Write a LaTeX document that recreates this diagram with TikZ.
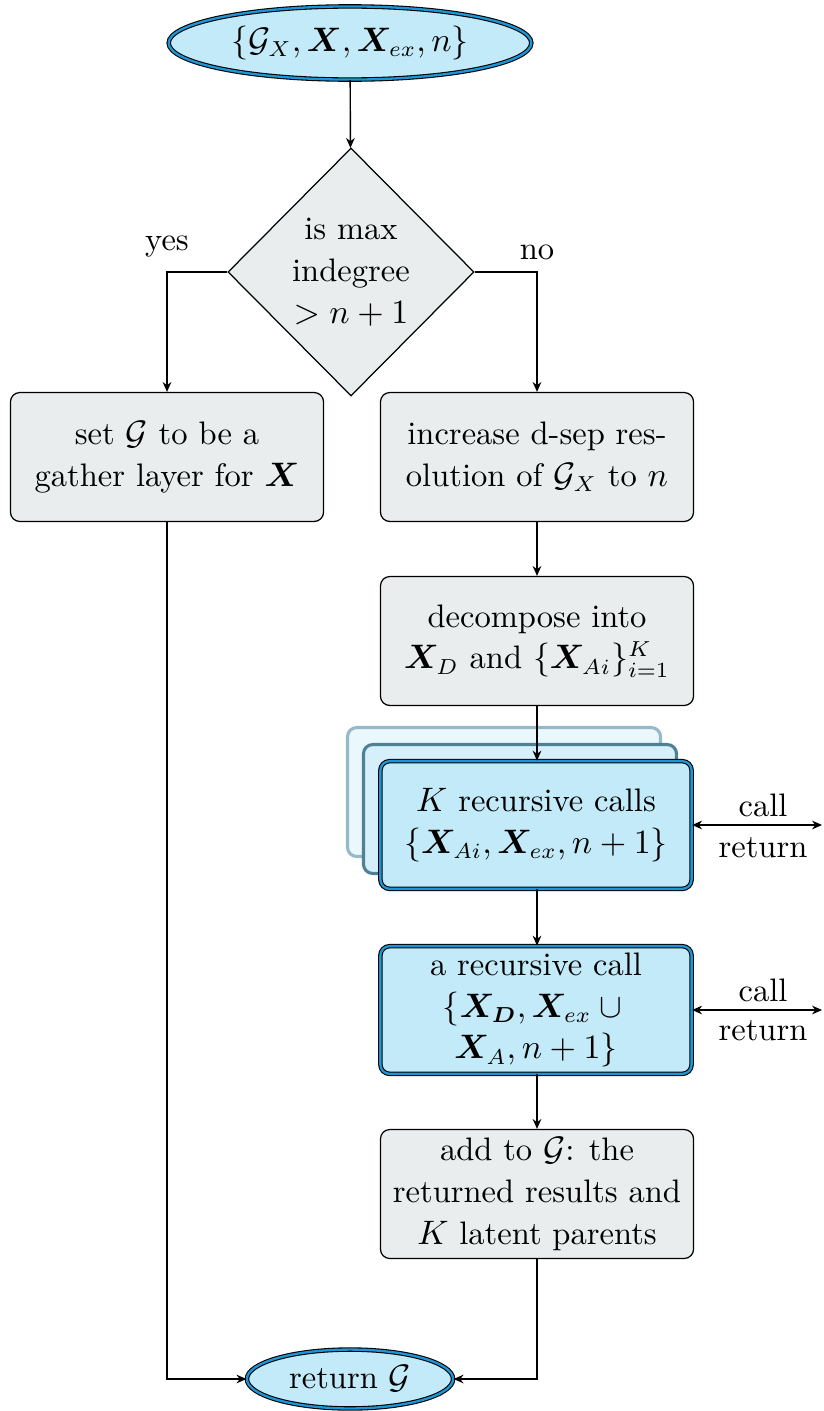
\documentclass[tikz,border=0pt]{standalone}
\usepackage{amsmath,bm}
\usetikzlibrary{shapes.geometric,arrows.meta}
\definecolor{cfill}{RGB}{194,234,249}
\definecolor{cborder}{RGB}{28,150,214}
\definecolor{gfill}{RGB}{233,237,238}
\definecolor{stkbackdraw}{RGB}{150,185,200}
\definecolor{stkbackfill}{RGB}{234,247,253}
\definecolor{stkmiddraw}{RGB}{80,128,150}
\definecolor{stkmidfill}{RGB}{214,240,251}
\begin{document}
\begin{tikzpicture}[x=0.3226pt,y=-0.3226pt,
  every node/.style={font=\fontsize{10.5}{13.5}\selectfont},
  arr/.style={-{Stealth[length=3.2pt,width=2.8pt]}, line width=0.45pt},
  darr/.style={{Stealth[length=3.2pt,width=2.8pt]}-{Stealth[length=3.2pt,width=2.8pt]}, line width=0.45pt},
  grayblock/.style={rectangle, rounded corners=3pt, draw=black, line width=0.4pt, fill=gfill,
    minimum width=101pt, minimum height=41.6pt, align=center, inner sep=0pt},
  blueblock/.style={rectangle, rounded corners=3pt, draw=black, double=cborder, double distance=0.75pt,
    line width=0.35pt, fill=cfill, minimum width=100.4pt, minimum height=41.2pt, align=center, inner sep=0pt},
  stackback/.style={rectangle, rounded corners=3pt, draw=stkbackdraw, line width=1pt, fill=stkbackfill,
    minimum width=101pt, minimum height=41.6pt},
  stackmid/.style={rectangle, rounded corners=3pt, draw=stkmiddraw, line width=1pt, fill=stkmidfill,
    minimum width=101pt, minimum height=41.6pt},
  term/.style={ellipse, draw=black, double=cborder, double distance=0.75pt, line width=0.35pt,
    fill=cfill, inner sep=0pt},
  decision/.style={diamond, draw=black, line width=0.4pt, fill=gfill, aspect=1, inner sep=0pt,
    minimum width=79.4pt, minimum height=80pt, align=center},
  lbl/.style={inner sep=0pt}]
\useasboundingbox (0,0) rectangle (823,1411);

% terminals
\node[term, minimum width=117pt, minimum height=23.6pt] (start) at (350,43)
  {$\{\mathcal{G}_X,\bm{X},\bm{X}_{ex},n\}$};
\node[term, minimum width=66.5pt, minimum height=19pt] (stop) at (350,1379) {return $\mathcal{G}$};

% decision
\node[decision] (dec) at (351,272) {is max\\indegree\\$>n+1$};

% blocks
\node[grayblock] (gather) at (167,457) {set $\mathcal{G}$ to be a\\gather layer for $\bm{X}$};
\node[grayblock] (inc) at (537,457) {increase d-sep res-\\olution of $\mathcal{G}_X$ to $n$};
\node[grayblock] (decomp) at (537,641) {decompose into\\$\bm{X}_D$ and $\{\bm{X}_{Ai}\}_{i=1}^{K}$};

\node[stackback] (stk1) at (504,792) {};
\node[stackmid] (stk2) at (520,809) {};
\node[blueblock] (kcalls) at (536,825) {$K$ recursive calls\\$\{\bm{X}_{Ai},\bm{X}_{ex},n+1\}$};
\node[blueblock] (onecall) at (536,1010) {a recursive call\\$\{\bm{X_D},\bm{X}_{ex}\cup{}$\\$\bm{X}_{A},n+1\}$};
\node[grayblock] (add) at (537,1194) {add to $\mathcal{G}$: the\\returned results and\\$K$ latent parents};

% connectors
\draw[arr] (start) -- (dec);
\draw[arr] (dec.west) -| (gather.north);
\draw[arr] (dec.east) -| (inc.north);
\node[lbl] (yes) at (167,247) {yes};
\node[lbl] (no) at (537,252) {no};
\draw[arr] (inc) -- (decomp);
\draw[arr] (decomp.south) -- (decomp.south |- kcalls.north);
\draw[arr] (kcalls.south -| add) -- (onecall.north -| add);
\draw[arr] (onecall.south -| add) -- (add.north);
\draw[arr] (add.south) |- (stop.east);
\draw[arr] (gather.south) |- (stop.west);

% call / return
\coordinate (ext1) at (822,825);
\coordinate (ext2) at (822,1010);
\draw[darr] (kcalls.east) -- (ext1);
\draw[darr] (onecall.east) -- (ext2);
\node[lbl] (call1) at (763,805) {call};
\node[lbl] (ret1) at (763,848) {return};
\node[lbl] (call2) at (763,990) {call};
\node[lbl] (ret2) at (763,1031) {return};
\end{tikzpicture}
\end{document}
